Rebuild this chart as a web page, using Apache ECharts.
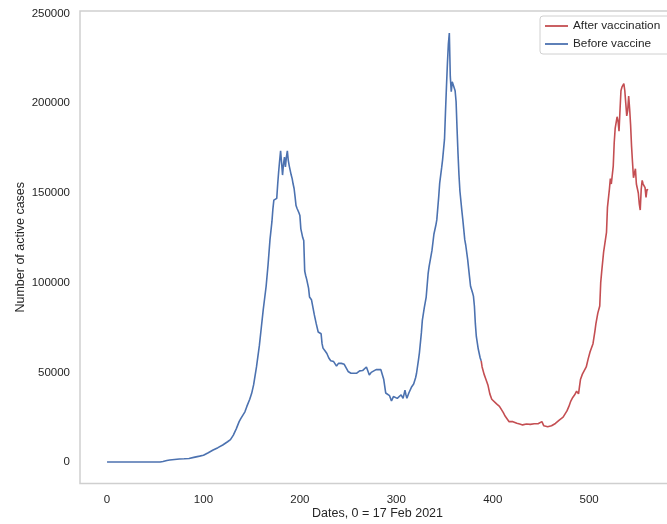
<!DOCTYPE html>
<html>
<head>
<meta charset="utf-8">
<script src="https://cdn.jsdelivr.net/npm/echarts@6/dist/echarts.min.js"></script>
<style>
  html, body { margin: 0; padding: 0; background: #fff; }
  #chart { width: 667px; height: 524px; }
</style>
</head>
<body>
<div id="chart"></div>
<script>
// days since 17 Feb 2021
const beforeDays = [0, 20, 40, 55, 58, 62, 65, 70, 75, 80, 85, 90, 96, 100, 105, 110, 115, 120, 125, 128,
  131, 134, 137, 139, 141, 143, 145, 148, 150, 152, 155, 158, 160, 162, 165, 167, 169, 171, 172, 173,
  174, 175, 176, 177, 178, 179, 180, 181, 182, 183, 184, 185, 186, 187, 188, 189, 190, 191, 192, 193,
  194, 195, 196, 197, 199, 200, 201, 203, 204, 205, 206, 207, 208, 209, 210, 212, 214, 215, 217, 219,
  221, 222, 223, 224, 226, 228, 230, 232, 235, 237, 238, 240, 243, 246, 248, 250, 253, 256, 259, 262,
  265, 267, 269, 271, 272, 274, 276, 279, 281, 284, 286, 287, 289, 291, 293, 295, 297, 299, 301, 303,
  305, 307, 309, 310, 311, 313, 314, 316, 318, 320, 321, 322, 323, 324, 326, 327, 329, 331, 333, 334,
  335, 337, 339, 341, 342, 344, 345, 347, 348, 350, 351, 352, 353, 354, 355, 356, 357, 358, 359, 360,
  361, 362, 363, 364, 365, 366, 368, 369, 371, 372, 374, 376, 377, 379, 380, 381, 382, 383, 385, 387, 388];
const beforeCases = [0, 0, 0, 0, 300, 800, 1100, 1400, 1700, 1800, 2000, 2600, 3300, 3800, 5200, 6700, 8000, 9500, 11300, 12500,
  15000, 18500, 22500, 24500, 23500, 28000, 31000, 35000, 38300, 43000, 53000, 65000, 75000, 85000, 98000, 110000, 124000, 134000, 141000, 146000,
  147000, 145500, 147000, 155000, 162000, 168000, 173500, 167000, 160000, 166000, 170000, 164500, 170000, 173500, 168000, 165000, 165000, 160000, 158000, 155000,
  152500, 148000, 143000, 141500, 139000, 137500, 130000, 125000, 123500, 106500, 104000, 102000, 101500, 97000, 92000, 90500, 90000, 82000, 77000, 72500,
  72000, 71500, 66000, 63500, 62000, 60500, 58000, 56500, 56000, 55500, 53500, 55000, 55000, 54500, 52500, 50500, 49500, 49500, 49500, 50800,
  51000, 51500, 53000, 50000, 48500, 50000, 51000, 51500, 52500, 51500, 50500, 46000, 38500, 37500, 37000, 34000, 36500, 36800, 35500, 36000,
  37500, 35500, 40000, 37500, 35500, 38500, 39200, 42000, 43500, 47000, 49500, 49000, 57000, 61000, 72000, 79000, 86000, 92000, 105000, 109000,
  108000, 118000, 127000, 132000, 135000, 148000, 155500, 164000, 168500, 180000, 195000, 209000, 222000, 233000, 239200, 215000, 206500, 212000, 211000, 212200,
  207000, 201000, 186000, 172000, 160000, 151000, 140000, 135000, 124000, 121000, 113000, 103000, 98000, 94500, 92500, 87000, 77000, 70000, 63000, 58000, 56500];

const afterDays = [388, 389, 391, 393, 395, 397, 399, 401, 404, 407, 409, 411, 413, 415, 417, 419, 421, 423, 425, 428,
  431, 433, 435, 437, 439, 441, 443, 445, 447, 449, 451, 452, 453, 455, 457, 459, 461, 463, 465, 467,
  469, 471, 473, 475, 477, 479, 481, 483, 485, 487, 488, 489, 490, 491, 493, 495, 497, 499, 501, 503,
  504, 506, 507, 509, 511, 512, 513, 515, 517, 518, 519, 521, 522, 523, 524, 525, 526, 527, 529, 530,
  531, 532, 533, 534, 535, 536, 537, 538, 539, 540, 541, 542, 543, 544, 545, 546, 547, 548, 549, 550,
  551, 552, 553, 554, 555, 556, 557, 558, 559, 560, 561];
const afterCases = [56500, 53000, 49000, 46000, 43000, 38000, 35000, 34000, 32400, 31000, 30000, 27500, 25500, 24000, 22500, 21500, 22500, 22300, 21600, 21200,
  20700, 20500, 21200, 22000, 21000, 20800, 21300, 21700, 21300, 21200, 22500, 23000, 20200, 20000, 19700, 19700, 20200, 20800, 21500, 22200,
  23400, 24200, 25000, 26000, 28500, 31000, 34000, 36000, 37500, 39500, 40500, 38000, 42000, 46000, 49000, 50000, 53000, 57500, 61500, 60500,
  66000, 73000, 77000, 83000, 87000, 100000, 106000, 117000, 117500, 128000, 142000, 152000, 158000, 155000, 154500, 165000, 178000, 186000, 192500, 190000,
  184500, 196000, 207000, 209000, 210000, 211000, 207000, 200000, 193000, 196000, 204000, 197000, 188000, 176000, 167000, 158500, 161000, 163500, 155000, 152500,
  150000, 144000, 140500, 152000, 157000, 155000, 154000, 153000, 147500, 152000, 151500];

const legendNames = ['After vaccination', 'Before vaccine'];

const pairs = (xs, ys) => xs.map((x, i) => [x, ys[i]]);

const chart = echarts.init(document.getElementById('chart'));

const option = {
  animation: false,
  backgroundColor: '#ffffff',
  textStyle: { fontFamily: 'Liberation Sans, Arial, sans-serif' },
  grid: {
    left: 80,
    right: -8,
    top: 11,
    bottom: 40.5,
    containLabel: false,
    outerBoundsMode: 'none',
    show: true,
    borderColor: '#cfcfcf',
    borderWidth: 1.5,
    backgroundColor: 'transparent'
  },
  legend: {
    data: legendNames.map(n => ({ name: n, icon: 'rect' })),
    orient: 'vertical',
    left: 540,
    top: 16,
    padding: [3, 12, 3, 5],
    itemWidth: 23,
    itemHeight: 1.8,
    itemGap: 4,
    itemTextGap: 10,
    borderColor: '#d0d0d0',
    borderWidth: 1,
    borderRadius: 3,
    backgroundColor: '#ffffff',
    textStyle: { fontSize: 11.8, color: '#262626', lineHeight: 14 }
  },
  xAxis: {
    type: 'value',
    min: -28.05,
    max: 589.05,
    name: 'Dates, 0 = 17 Feb 2021',
    nameLocation: 'middle',
    nameMoveOverlap: false,
    nameGap: 24,
    nameTextStyle: { fontSize: 12.5, color: '#262626' },
    axisLine: { show: false },
    axisTick: { show: false },
    splitLine: { show: false },
    axisLabel: {
      fontSize: 11.5,
      color: '#262626',
      margin: 10,
      showMinLabel: false,
      showMaxLabel: false,
      formatter: v => (v >= 0 && v % 100 === 0 ? String(v) : '')
    }
  },
  yAxis: {
    type: 'value',
    min: -11975,
    max: 251475,
    name: 'Number of active cases',
    nameLocation: 'middle',
    nameMoveOverlap: false,
    nameGap: 53,
    nameTextStyle: { fontSize: 12.5, color: '#262626' },
    axisLine: { show: false },
    axisTick: { show: false },
    splitLine: { show: false },
    axisLabel: {
      fontSize: 11.5,
      color: '#262626',
      margin: 10,
      showMinLabel: false,
      showMaxLabel: false,
      formatter: v => (v >= 0 && v % 50000 === 0 ? String(v) : '')
    }
  },
  series: [
    {
      name: 'After vaccination',
      type: 'line',
      symbol: 'none',
      data: pairs(afterDays, afterCases),
      lineStyle: { color: '#c44e52', width: 1.6 },
      itemStyle: { color: '#c44e52' }
    },
    {
      name: 'Before vaccine',
      type: 'line',
      symbol: 'none',
      data: pairs(beforeDays, beforeCases),
      lineStyle: { color: '#4c72b0', width: 1.6 },
      itemStyle: { color: '#4c72b0' }
    }
  ]
};

chart.setOption(option);
</script>
</body>
</html>
